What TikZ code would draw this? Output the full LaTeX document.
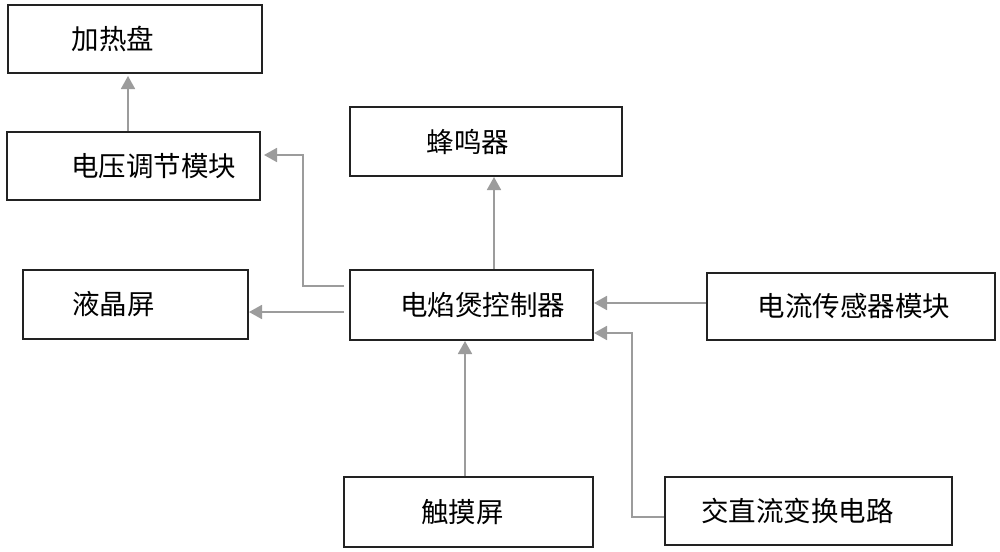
\documentclass[tikz,border=0pt]{standalone}
\usepackage{fontspec}
\newfontfamily\cjk{Noto Sans CJK SC}
\usetikzlibrary{arrows.meta,calc}
\definecolor{arrgray}{HTML}{9C9C9C}
\definecolor{boxline}{HTML}{222222}
\tikzset{
  blk/.style={draw=boxline, line width=2pt, fill=white, inner sep=0pt, font=\cjk\fontsize{27.5pt}{32pt}\selectfont},
  arr/.style={draw=arrgray, line width=1.8pt, -{Triangle[length=13pt,width=14pt]}, color=arrgray},
}
\begin{document}
\begin{tikzpicture}[x=1pt,y=-1pt]
\useasboundingbox[fill=white] (0,0) rectangle (1000,551);
% boxes
\node[blk, minimum width=254pt, minimum height=68pt] (heat) at (135,39) {加热盘\hspace*{44pt}};
\node[blk, minimum width=253pt, minimum height=68pt] (reg) at (133.5,166) {\hspace*{40pt}电压调节模块};
\node[blk, minimum width=272pt, minimum height=69pt] (buz) at (486,141.5) {蜂鸣器\hspace*{36pt}};
\node[blk, minimum width=243pt, minimum height=70pt] (ctrl) at (471.5,305) {\hspace*{22pt}电焰煲控制器};
\node[blk, minimum width=225pt, minimum height=69pt] (lcd) at (135.5,304.5) {液晶屏\hspace*{44pt}};
\node[blk, minimum width=288pt, minimum height=67pt] (sens) at (851,306.5) {\hspace*{6pt}电流传感器模块};
\node[blk, minimum width=249pt, minimum height=70pt] (touch) at (468.5,512) {触摸屏\hspace*{12pt}};
\node[blk, minimum width=287pt, minimum height=68pt] (acdc) at (808.5,511) {交直流变换电路\hspace*{22pt}};
% connectors
\draw[arr, shorten >=2pt] ([xshift=-5.5pt]reg.north) -- ([xshift=-5.5pt]reg.north |- heat.south);
\draw[arr, shorten <=5pt, shorten >=3pt] (ctrl.west |- 0,286) -| (303,155) -- (reg.east |- 0,155);
\draw[arr, shorten <=5pt] (ctrl.west |- 0,312) -- (lcd.east |- 0,312);
\draw[arr] (ctrl.north -| 494,0) -- (buz.south -| 494,0);
\draw[arr] (sens.west |- 0,303) -- (ctrl.east |- 0,303);
\draw[arr] (acdc.west |- 0,517) -| (632,333) -- (ctrl.east |- 0,333);
\draw[arr] (touch.north -| 465,0) -- (ctrl.south -| 465,0);
\end{tikzpicture}
\end{document}
